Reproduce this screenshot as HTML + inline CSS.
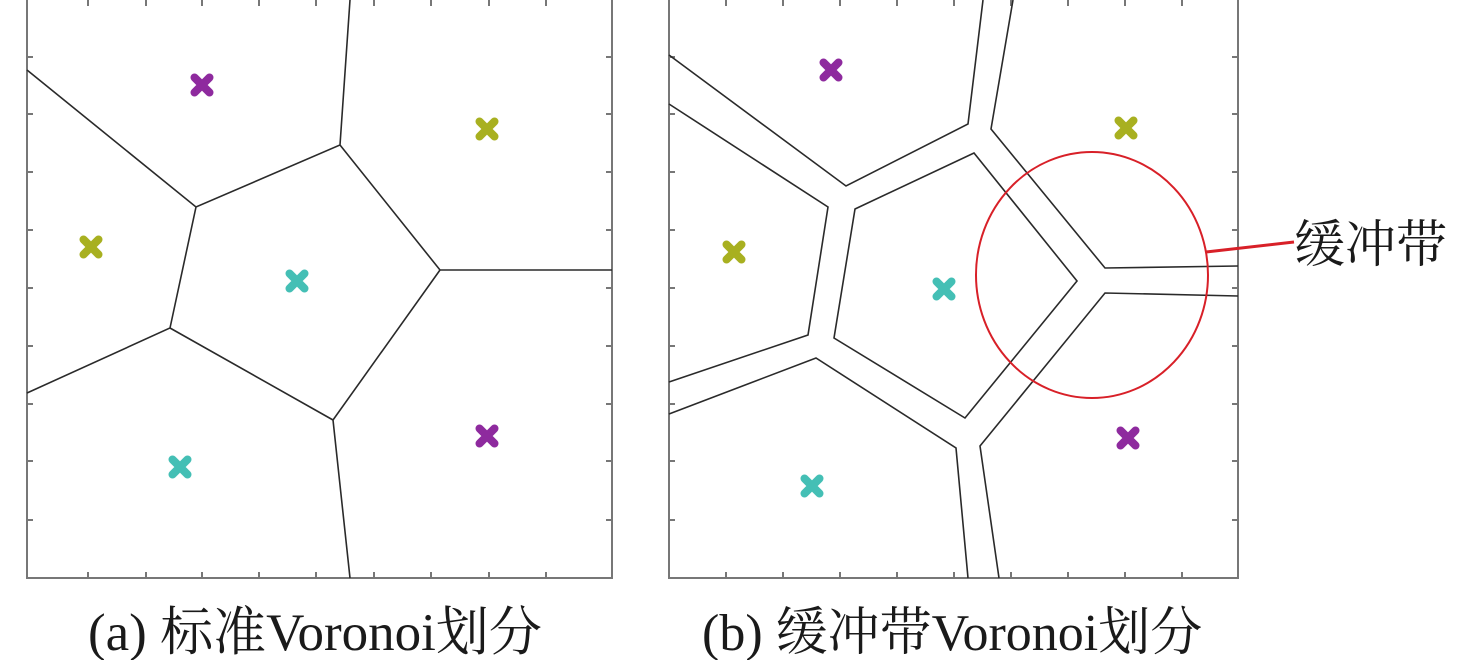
<!DOCTYPE html>
<html><head><meta charset="utf-8"><style>
html,body{margin:0;padding:0;background:#fff;}
svg{display:block;}
text{font-family:"Liberation Serif","Noto Serif CJK SC",serif;fill:#1a1a1a;}
</style></head><body>
<svg width="1476" height="660" viewBox="0 0 1476 660" xmlns="http://www.w3.org/2000/svg">
<defs>
<g id="mk"><path d="M-7.5,-7.5L7.5,7.5M7.5,-7.5L-7.5,7.5" stroke-width="8" stroke-linecap="round"/></g>
</defs>
<!-- Panel a -->
<g stroke="#777" stroke-width="2" fill="none">
<rect x="27" y="-2" width="585" height="580"/>
<path d="M88,578v-6M146,578v-6M202,578v-6M259,578v-6M316,578v-6M374,578v-6M431,578v-6M489,578v-6M546,578v-6
M88,0v6M146,0v6M202,0v6M259,0v6M316,0v6M374,0v6M431,0v6M489,0v6M546,0v6
M27,57h6M27,114h6M27,172h6M27,230h6M27,288h6M27,346h6M27,404h6M27,461h6M27,520h6
M612,57h-6M612,114h-6M612,172h-6M612,230h-6M612,288h-6M612,346h-6M612,404h-6M612,461h-6M612,520h-6"/>
</g>
<g stroke="#2a2a2a" stroke-width="1.6" fill="none">
<path d="M27,70L196,207L340,145L350,0M196,207L170,328L27,393M340,145L440,270L612,270M440,270L333,420L350,578M170,328L333,420"/>
</g>
<use href="#mk" x="202" y="85" stroke="#8e2a9e"/>
<use href="#mk" x="487" y="129" stroke="#a8b020"/>
<use href="#mk" x="91" y="247" stroke="#a8b020"/>
<use href="#mk" x="297" y="281" stroke="#44bfb5"/>
<use href="#mk" x="180" y="467" stroke="#44bfb5"/>
<use href="#mk" x="487" y="436" stroke="#8e2a9e"/>
<!-- Panel b -->
<g stroke="#777" stroke-width="2" fill="none">
<rect x="669" y="-2" width="569" height="580"/>
<path d="M726,578v-6M783,578v-6M840,578v-6M897,578v-6M954,578v-6M1011,578v-6M1068,578v-6M1125,578v-6M1182,578v-6
M726,0v6M783,0v6M840,0v6M897,0v6M954,0v6M1011,0v6M1068,0v6M1125,0v6M1182,0v6
M669,57h6M669,114h6M669,172h6M669,230h6M669,288h6M669,346h6M669,404h6M669,461h6M669,520h6
M1238,57h-6M1238,114h-6M1238,172h-6M1238,230h-6M1238,288h-6M1238,346h-6M1238,404h-6M1238,461h-6M1238,520h-6"/>
</g>
<g stroke="#2a2a2a" stroke-width="1.6" fill="none" stroke-linejoin="miter">
<path d="M669,55L846,186L968,124L983,0"/>
<path d="M669,104L828,207L808,335L669,382"/>
<path d="M855,209L974,153L1077,281L965,418L834,338Z"/>
<path d="M1013,0L991,129L1105,268L1238,266"/>
<path d="M1238,296L1105,293L980,446L999,578"/>
<path d="M669,414L816,358L956,448L968,578"/>
</g>
<ellipse cx="1092" cy="275" rx="116" ry="123" fill="none" stroke="#d82028" stroke-width="2"/>
<line x1="1206" y1="252" x2="1294" y2="242" stroke="#d82028" stroke-width="3"/>
<use href="#mk" x="831" y="70" stroke="#8e2a9e"/>
<use href="#mk" x="1126" y="128" stroke="#a8b020"/>
<use href="#mk" x="734" y="252" stroke="#a8b020"/>
<use href="#mk" x="944" y="289" stroke="#44bfb5"/>
<use href="#mk" x="812" y="486" stroke="#44bfb5"/>
<use href="#mk" x="1128" y="438" stroke="#8e2a9e"/>
<text x="1294" y="262" font-size="51">缓冲带</text>
<text x="88" y="650" font-size="53">(a) 标准Voronoi划分</text>
<text x="702" y="650" font-size="52">(b) 缓冲带Voronoi划分</text>
</svg>
</body></html>
